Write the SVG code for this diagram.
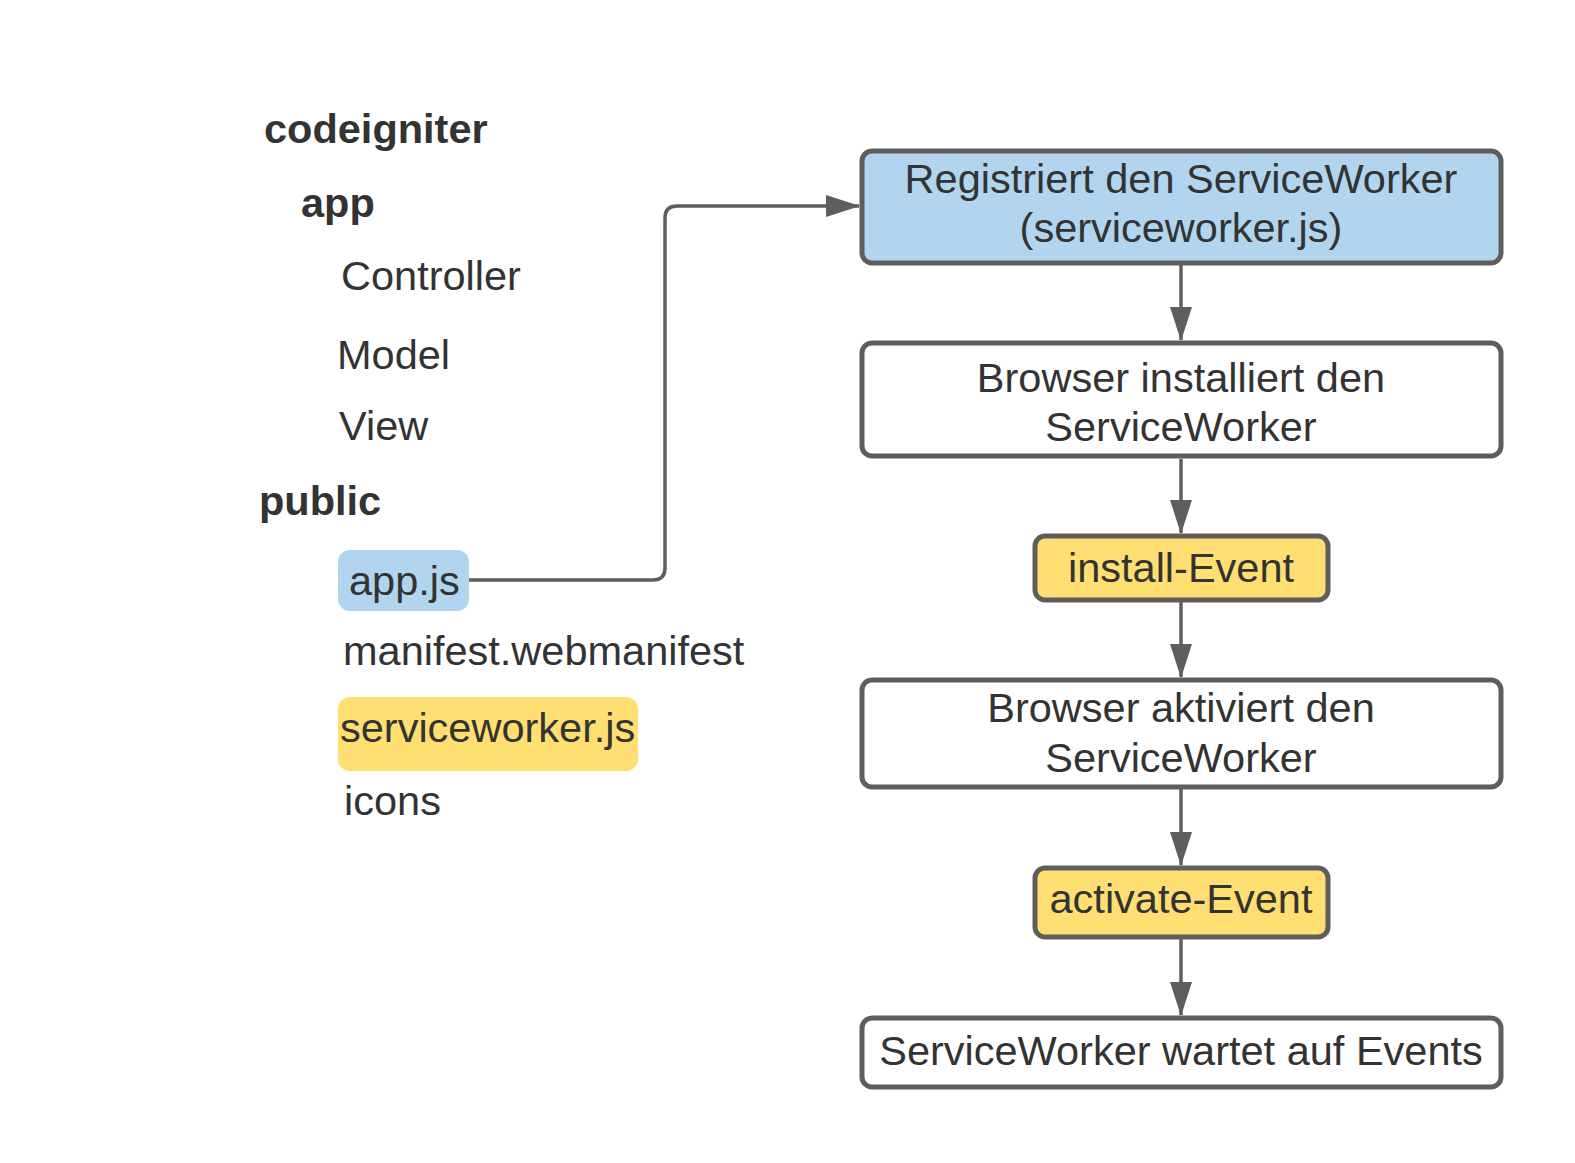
<svg xmlns="http://www.w3.org/2000/svg" width="1575" height="1163" viewBox="0 0 1575 1163">
<style>
.t{font-family:"Liberation Sans",Arial,sans-serif;font-size:41.5px;fill:#333333}
.b{font-weight:bold}
.c{text-anchor:middle}
.box{stroke:#5e5e5e;stroke-width:5;fill:#ffffff}
.blue{fill:#b1d5ef}
.yellow{fill:#ffdf71}
.hl{stroke:none}
.conn{fill:none;stroke:#5e5e5e;stroke-width:3.5}
</style>
<defs>
<marker id="arr" markerUnits="userSpaceOnUse" markerWidth="34" markerHeight="24" viewBox="0 0 34 24" refX="33" refY="12" orient="auto">
<path d="M0,1 L34,12 L0,23 Z" fill="#5e5e5e"/>
</marker>
</defs>
<rect width="1575" height="1163" fill="#ffffff"/>
<g id="tree">
<text class="t b" x="264" y="143">codeigniter</text>
<text class="t b" x="301" y="217">app</text>
<text class="t" x="341" y="290">Controller</text>
<text class="t" x="337" y="369">Model</text>
<text class="t" x="339" y="440">View</text>
<text class="t b" x="259" y="515">public</text>
</g>
<g id="appjs">
<rect class="hl blue" x="338" y="550" width="131" height="61" rx="12"/>
<text class="t" x="349" y="595">app.js</text>
</g>
<g id="manifest">
<text class="t" x="343" y="665">manifest.webmanifest</text>
</g>
<g id="serviceworkerjs">
<rect class="hl yellow" x="338" y="697" width="300" height="74" rx="12"/>
<text class="t" x="340" y="742">serviceworker.js</text>
</g>
<g id="icons">
<text class="t" x="344" y="815">icons</text>
</g>
<g id="connectors">
<path class="conn" d="M469,580 H653 Q665,580 665,568 V218 Q665,206 677,206 H859" marker-end="url(#arr)"/>
<path class="conn" d="M1181,265 V340" marker-end="url(#arr)"/>
<path class="conn" d="M1181,459 V533" marker-end="url(#arr)"/>
<path class="conn" d="M1181,602 V677" marker-end="url(#arr)"/>
<path class="conn" d="M1181,789 V865" marker-end="url(#arr)"/>
<path class="conn" d="M1181,939 V1015" marker-end="url(#arr)"/>
</g>
<g id="register">
<rect class="box blue" x="862" y="151" width="639" height="112" rx="10"/>
<text class="t c" x="1181" y="193">Registriert den ServiceWorker</text>
<text class="t c" x="1181" y="242">(serviceworker.js)</text>
</g>
<g id="install">
<rect class="box" x="862" y="343" width="639" height="113" rx="10"/>
<text class="t c" x="1181" y="392">Browser installiert den</text>
<text class="t c" x="1181" y="441">ServiceWorker</text>
</g>
<g id="installevent">
<rect class="box yellow" x="1035" y="536" width="293" height="64" rx="10"/>
<text class="t c" x="1181" y="582">install-Event</text>
</g>
<g id="activate">
<rect class="box" x="862" y="680" width="639" height="107" rx="10"/>
<text class="t c" x="1181" y="722">Browser aktiviert den</text>
<text class="t c" x="1181" y="772">ServiceWorker</text>
</g>
<g id="activateevent">
<rect class="box yellow" x="1035" y="868" width="293" height="69" rx="10"/>
<text class="t c" x="1181" y="913">activate-Event</text>
</g>
<g id="waiting">
<rect class="box" x="862" y="1018" width="639" height="69" rx="10"/>
<text class="t c" x="1181" y="1065">ServiceWorker wartet auf Events</text>
</g>
</svg>
